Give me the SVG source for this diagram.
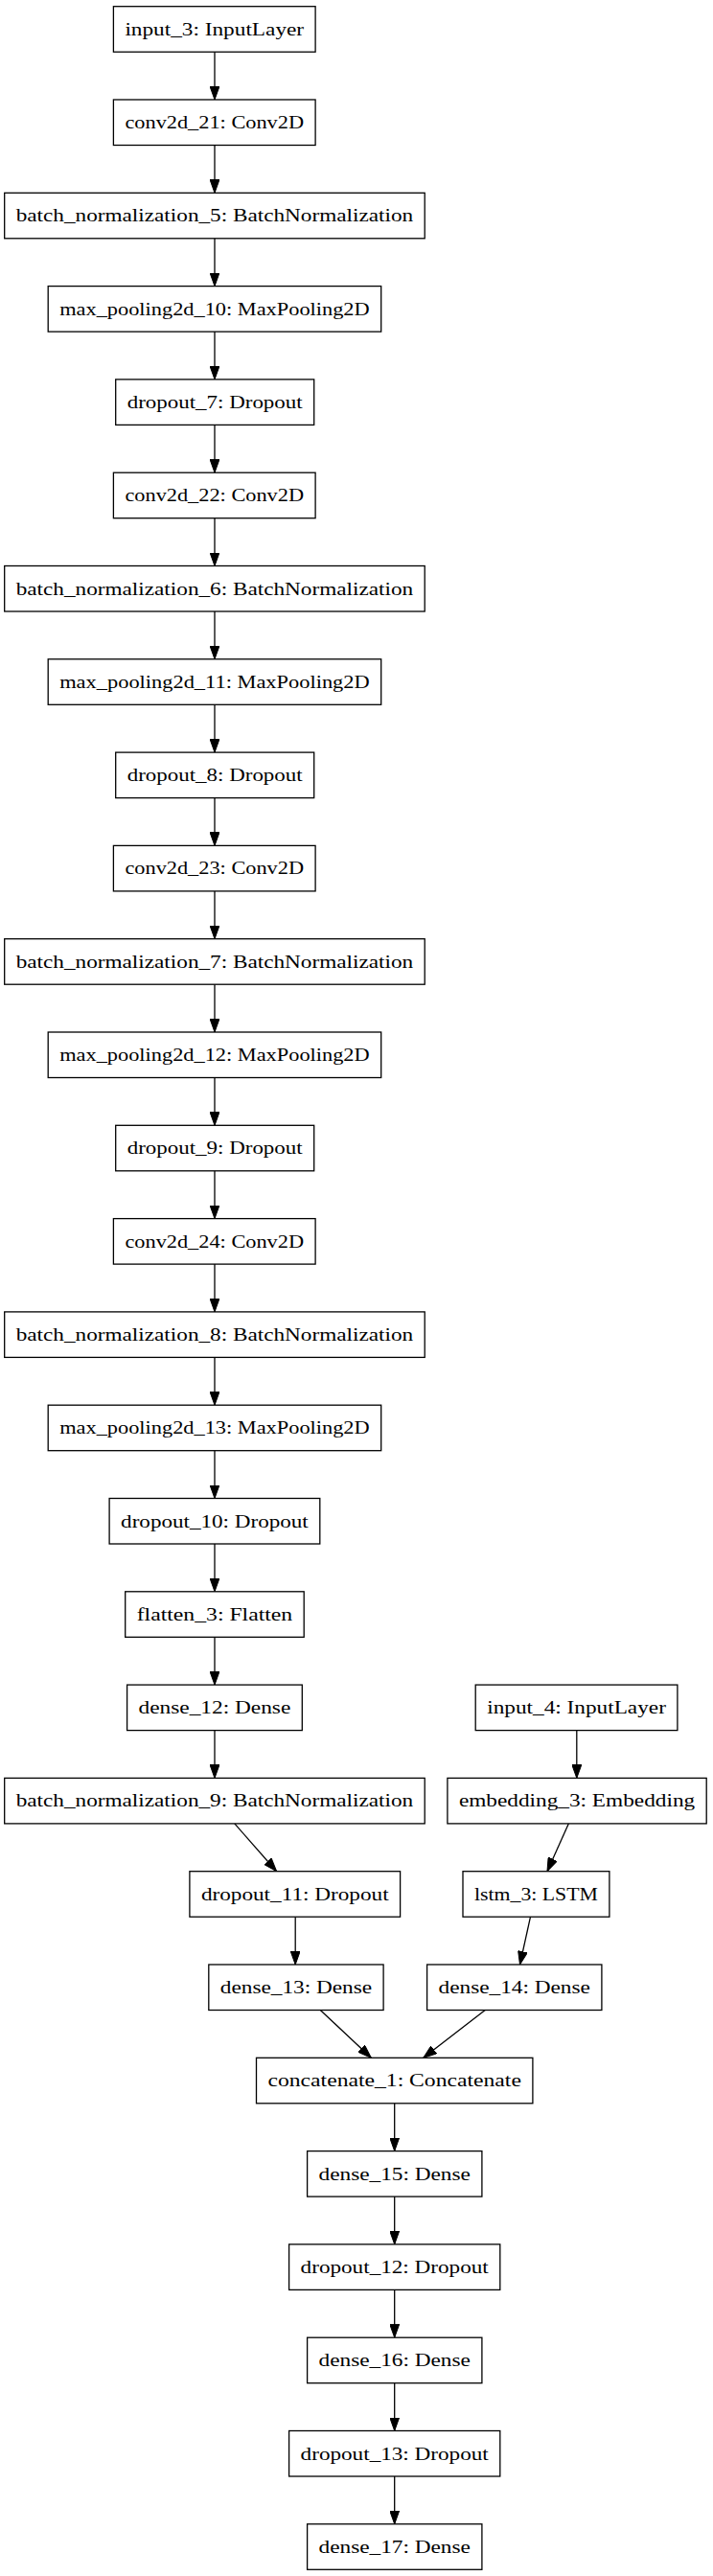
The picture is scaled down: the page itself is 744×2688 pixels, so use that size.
<svg xmlns="http://www.w3.org/2000/svg" width="744" height="2688" viewBox="0 0 744 2688">
<style>
.n rect{fill:#fff;stroke:#000;stroke-width:1.3}
.n text{font-family:"Liberation Serif","Times New Roman",serif;font-size:19.5px;text-anchor:middle;fill:#000}
.e line{stroke:#000;stroke-width:1.3;marker-end:url(#ah)}
</style>
<defs>
<marker id="ah" markerUnits="userSpaceOnUse" markerWidth="14" markerHeight="10" refX="14" refY="5" orient="auto">
<path d="M0,0 L14,5 L0,10 z" fill="#000" stroke="#000" stroke-width="1"/>
</marker>
</defs>
<rect width="744" height="2688" fill="#fff"/>
<g id="edges" class="e">
<line x1="224" y1="54.2" x2="224" y2="104.0"/>
<line x1="224" y1="151.5" x2="224" y2="201.3"/>
<line x1="224" y1="248.8" x2="224" y2="298.6"/>
<line x1="224" y1="346.1" x2="224" y2="395.9"/>
<line x1="224" y1="443.4" x2="224" y2="493.2"/>
<line x1="224" y1="540.7" x2="224" y2="590.5"/>
<line x1="224" y1="638.0" x2="224" y2="687.8"/>
<line x1="224" y1="735.3" x2="224" y2="785.1"/>
<line x1="224" y1="832.6" x2="224" y2="882.4"/>
<line x1="224" y1="929.9" x2="224" y2="979.7"/>
<line x1="224" y1="1027.2" x2="224" y2="1077.0"/>
<line x1="224" y1="1124.5" x2="224" y2="1174.3"/>
<line x1="224" y1="1221.8" x2="224" y2="1271.6"/>
<line x1="224" y1="1319.1" x2="224" y2="1368.9"/>
<line x1="224" y1="1416.4" x2="224" y2="1466.2"/>
<line x1="224" y1="1513.7" x2="224" y2="1563.5"/>
<line x1="224" y1="1611.0" x2="224" y2="1660.8"/>
<line x1="224" y1="1708.3" x2="224" y2="1758.1"/>
<line x1="224" y1="1805.6" x2="224" y2="1855.4"/>
<line x1="601.8" y1="1805.6" x2="601.8" y2="1855.4"/>
<line x1="244.8" y1="1902.9" x2="288.6" y2="1952.7"/>
<line x1="593.3" y1="1902.9" x2="571.0" y2="1952.7"/>
<line x1="308.2" y1="2000.2" x2="308.2" y2="2050.0"/>
<line x1="553.5" y1="2000.2" x2="542.5" y2="2050.0"/>
<line x1="334.3" y1="2097.5" x2="387.3" y2="2147.3"/>
<line x1="506.2" y1="2097.5" x2="441.8" y2="2147.3"/>
<line x1="411.7" y1="2194.8" x2="411.7" y2="2244.6"/>
<line x1="411.7" y1="2292.1" x2="411.7" y2="2341.9"/>
<line x1="411.7" y1="2389.4" x2="411.7" y2="2439.2"/>
<line x1="411.7" y1="2486.7" x2="411.7" y2="2536.5"/>
<line x1="411.7" y1="2584.0" x2="411.7" y2="2633.8"/>
</g>
<g id="input_3" class="n"><rect x="118.4" y="6.7" width="210.7" height="47.5"/><text x="223.75" y="36.7" textLength="186.7" lengthAdjust="spacingAndGlyphs">input_3: InputLayer</text></g>
<g id="conv2d_21" class="n"><rect x="118.4" y="104.0" width="210.7" height="47.5"/><text x="223.75" y="134.0" textLength="186.7" lengthAdjust="spacingAndGlyphs">conv2d_21: Conv2D</text></g>
<g id="batch_normalization_5" class="n"><rect x="4.7" y="201.3" width="438.5" height="47.5"/><text x="223.95" y="231.3" textLength="414.5" lengthAdjust="spacingAndGlyphs">batch_normalization_5: BatchNormalization</text></g>
<g id="max_pooling2d_10" class="n"><rect x="50.2" y="298.6" width="347.5" height="47.5"/><text x="223.95" y="328.6" textLength="323.5" lengthAdjust="spacingAndGlyphs">max_pooling2d_10: MaxPooling2D</text></g>
<g id="dropout_7" class="n"><rect x="120.7" y="395.9" width="207" height="47.5"/><text x="224.2" y="425.9" textLength="183" lengthAdjust="spacingAndGlyphs">dropout_7: Dropout</text></g>
<g id="conv2d_22" class="n"><rect x="118.4" y="493.2" width="210.7" height="47.5"/><text x="223.75" y="523.2" textLength="186.7" lengthAdjust="spacingAndGlyphs">conv2d_22: Conv2D</text></g>
<g id="batch_normalization_6" class="n"><rect x="4.7" y="590.5" width="438.5" height="47.5"/><text x="223.95" y="620.5" textLength="414.5" lengthAdjust="spacingAndGlyphs">batch_normalization_6: BatchNormalization</text></g>
<g id="max_pooling2d_11" class="n"><rect x="50.2" y="687.8" width="347.5" height="47.5"/><text x="223.95" y="717.8" textLength="323.5" lengthAdjust="spacingAndGlyphs">max_pooling2d_11: MaxPooling2D</text></g>
<g id="dropout_8" class="n"><rect x="120.7" y="785.1" width="207" height="47.5"/><text x="224.2" y="815.1" textLength="183" lengthAdjust="spacingAndGlyphs">dropout_8: Dropout</text></g>
<g id="conv2d_23" class="n"><rect x="118.4" y="882.4" width="210.7" height="47.5"/><text x="223.75" y="912.4" textLength="186.7" lengthAdjust="spacingAndGlyphs">conv2d_23: Conv2D</text></g>
<g id="batch_normalization_7" class="n"><rect x="4.7" y="979.7" width="438.5" height="47.5"/><text x="223.95" y="1009.7" textLength="414.5" lengthAdjust="spacingAndGlyphs">batch_normalization_7: BatchNormalization</text></g>
<g id="max_pooling2d_12" class="n"><rect x="50.2" y="1077.0" width="347.5" height="47.5"/><text x="223.95" y="1107.0" textLength="323.5" lengthAdjust="spacingAndGlyphs">max_pooling2d_12: MaxPooling2D</text></g>
<g id="dropout_9" class="n"><rect x="120.7" y="1174.3" width="207" height="47.5"/><text x="224.2" y="1204.3" textLength="183" lengthAdjust="spacingAndGlyphs">dropout_9: Dropout</text></g>
<g id="conv2d_24" class="n"><rect x="118.4" y="1271.6" width="210.7" height="47.5"/><text x="223.75" y="1301.6" textLength="186.7" lengthAdjust="spacingAndGlyphs">conv2d_24: Conv2D</text></g>
<g id="batch_normalization_8" class="n"><rect x="4.7" y="1368.9" width="438.5" height="47.5"/><text x="223.95" y="1398.9" textLength="414.5" lengthAdjust="spacingAndGlyphs">batch_normalization_8: BatchNormalization</text></g>
<g id="max_pooling2d_13" class="n"><rect x="50.2" y="1466.2" width="347.5" height="47.5"/><text x="223.95" y="1496.2" textLength="323.5" lengthAdjust="spacingAndGlyphs">max_pooling2d_13: MaxPooling2D</text></g>
<g id="dropout_10" class="n"><rect x="114.1" y="1563.5" width="219.7" height="47.5"/><text x="223.95" y="1593.5" textLength="195.7" lengthAdjust="spacingAndGlyphs">dropout_10: Dropout</text></g>
<g id="flatten_3" class="n"><rect x="130.7" y="1660.8" width="186.5" height="47.5"/><text x="223.95" y="1690.8" textLength="162.5" lengthAdjust="spacingAndGlyphs">flatten_3: Flatten</text></g>
<g id="dense_12" class="n"><rect x="132.6" y="1758.1" width="182.7" height="47.5"/><text x="223.95" y="1788.1" textLength="158.7" lengthAdjust="spacingAndGlyphs">dense_12: Dense</text></g>
<g id="input_4" class="n"><rect x="496.2" y="1758.1" width="210.7" height="47.5"/><text x="601.55" y="1788.1" textLength="186.7" lengthAdjust="spacingAndGlyphs">input_4: InputLayer</text></g>
<g id="batch_normalization_9" class="n"><rect x="4.7" y="1855.4" width="438.5" height="47.5"/><text x="223.95" y="1885.4" textLength="414.5" lengthAdjust="spacingAndGlyphs">batch_normalization_9: BatchNormalization</text></g>
<g id="embedding_3" class="n"><rect x="466.9" y="1855.4" width="270.3" height="47.5"/><text x="602.05" y="1885.4" textLength="246.3" lengthAdjust="spacingAndGlyphs">embedding_3: Embedding</text></g>
<g id="dropout_11" class="n"><rect x="197.9" y="1952.7" width="219.7" height="47.5"/><text x="307.75" y="1982.7" textLength="195.7" lengthAdjust="spacingAndGlyphs">dropout_11: Dropout</text></g>
<g id="lstm_3" class="n"><rect x="483" y="1952.7" width="152.9" height="47.5"/><text x="559.45" y="1982.7" textLength="128.9" lengthAdjust="spacingAndGlyphs">lstm_3: LSTM</text></g>
<g id="dense_13" class="n"><rect x="217.8" y="2050.0" width="182.3" height="47.5"/><text x="308.95" y="2080.0" textLength="158.3" lengthAdjust="spacingAndGlyphs">dense_13: Dense</text></g>
<g id="dense_14" class="n"><rect x="445.6" y="2050.0" width="182.3" height="47.5"/><text x="536.75" y="2080.0" textLength="158.3" lengthAdjust="spacingAndGlyphs">dense_14: Dense</text></g>
<g id="concatenate_1" class="n"><rect x="267.5" y="2147.3" width="288.4" height="47.5"/><text x="411.7" y="2177.3" textLength="264.4" lengthAdjust="spacingAndGlyphs">concatenate_1: Concatenate</text></g>
<g id="dense_15" class="n"><rect x="320.6" y="2244.6" width="182.3" height="47.5"/><text x="411.75" y="2274.6" textLength="158.3" lengthAdjust="spacingAndGlyphs">dense_15: Dense</text></g>
<g id="dropout_12" class="n"><rect x="301.6" y="2341.9" width="220.2" height="47.5"/><text x="411.7" y="2371.9" textLength="196.2" lengthAdjust="spacingAndGlyphs">dropout_12: Dropout</text></g>
<g id="dense_16" class="n"><rect x="320.6" y="2439.2" width="182.3" height="47.5"/><text x="411.75" y="2469.2" textLength="158.3" lengthAdjust="spacingAndGlyphs">dense_16: Dense</text></g>
<g id="dropout_13" class="n"><rect x="301.6" y="2536.5" width="220.2" height="47.5"/><text x="411.7" y="2566.5" textLength="196.2" lengthAdjust="spacingAndGlyphs">dropout_13: Dropout</text></g>
<g id="dense_17" class="n"><rect x="320.6" y="2633.8" width="182.3" height="47.5"/><text x="411.75" y="2663.8" textLength="158.3" lengthAdjust="spacingAndGlyphs">dense_17: Dense</text></g>
</svg>
